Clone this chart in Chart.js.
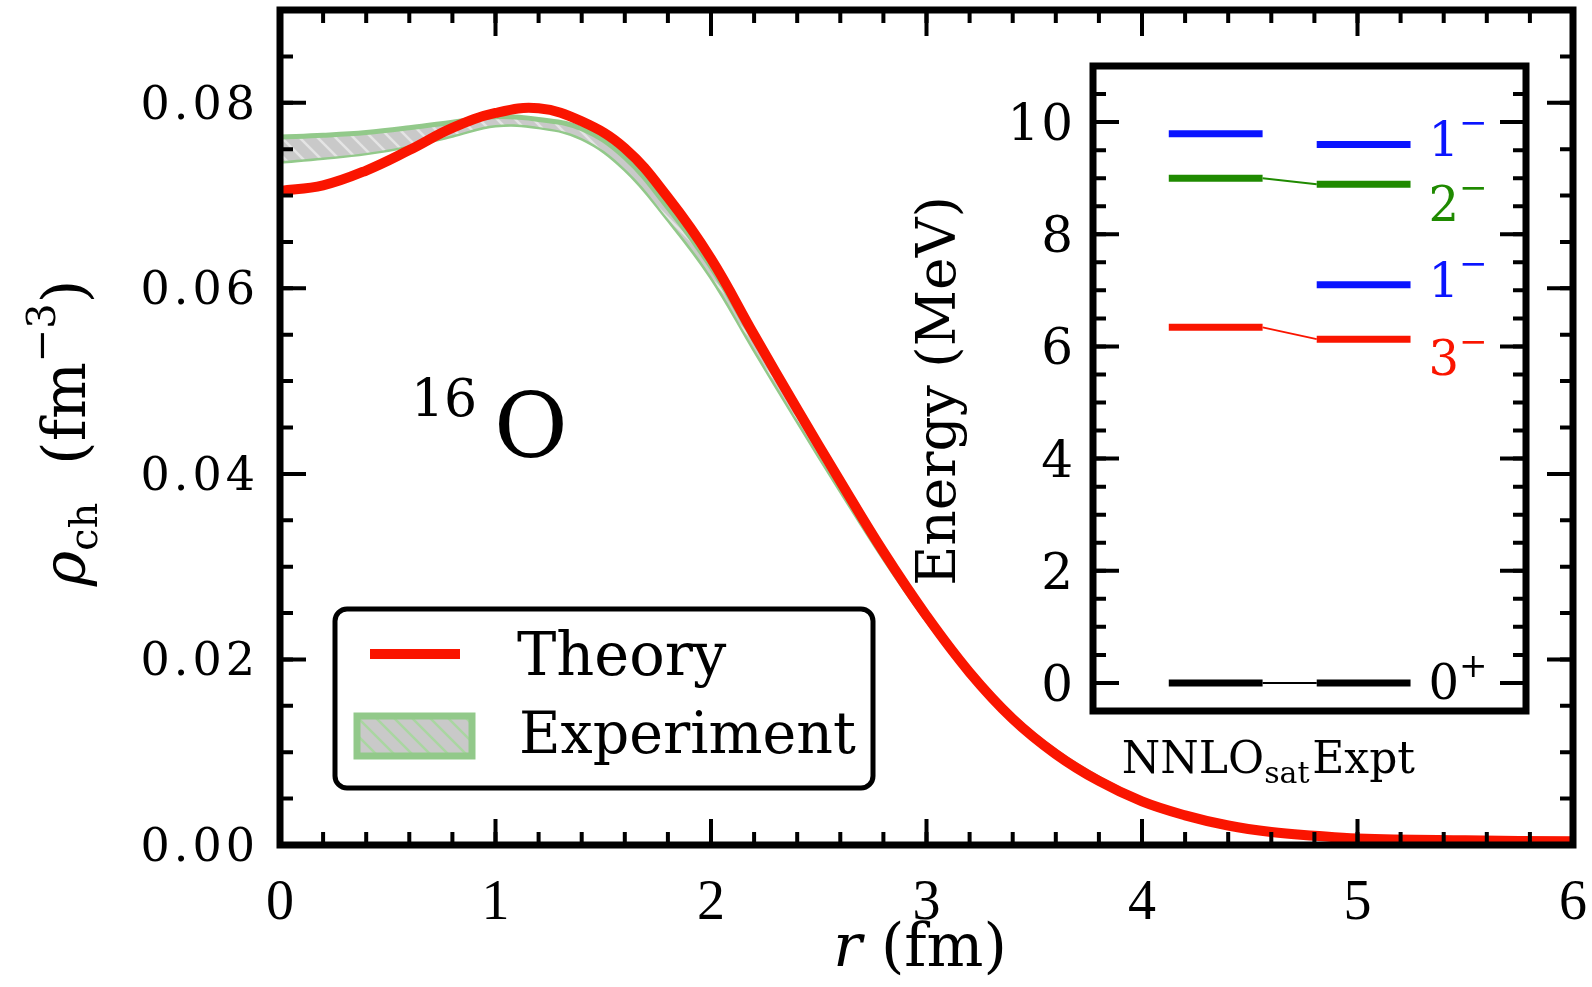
<!DOCTYPE html>
<html>
<head>
<meta charset="utf-8">
<script src="https://cdn.jsdelivr.net/npm/chart.js@4.4.1/dist/chart.umd.min.js"></script>
<style>
  html, body { margin: 0; padding: 0; background: #fff; }
  #wrap { position: relative; width: 1592px; height: 987px; }
  #wrap canvas { position: absolute; left: 0; top: 0; }
</style>
</head>
<body>
<div id="wrap">
  <canvas id="density" width="1592" height="987"></canvas>
  <canvas id="levels" width="1592" height="987"></canvas>
</div>
<script>
// 16O charge density (fm^-3) vs r (fm)
const radius = [0, 0.2, 0.4, 0.6, 0.8, 1.0, 1.2, 1.4, 1.6, 1.8, 2.0, 2.2, 2.4, 2.6, 2.8, 3.0, 3.2, 3.4, 3.6, 3.8, 4.0, 4.2, 4.4, 4.6, 4.8, 5.0, 5.5, 6.0];
const theoryRho = [0.0705, 0.0711, 0.0727, 0.0749, 0.0773, 0.0789, 0.0794, 0.0780, 0.0751, 0.0698, 0.0632, 0.0550, 0.0470, 0.0392, 0.0316, 0.0247, 0.0186, 0.0136, 0.0098, 0.0069, 0.0047, 0.0032, 0.0021, 0.0014, 0.0010, 0.0007, 0.0005, 0.0004];
const exptRhoUpper = [0.0763, 0.0765, 0.0768, 0.0773, 0.0779, 0.0785, 0.0782, 0.0772, 0.0741, 0.0687, 0.0623, 0.0544, 0.0466, 0.0390, 0.0316, 0.0249, 0.0189, 0.0139, 0.0101, 0.0072, 0.0049, 0.0033, 0.0022, 0.0015, 0.0010, 0.0008, 0.0005, 0.0004];
const exptRhoLower = [0.0737, 0.0741, 0.0746, 0.0754, 0.0765, 0.0776, 0.0774, 0.0762, 0.0729, 0.0675, 0.0613, 0.0535, 0.0458, 0.0383, 0.0310, 0.0243, 0.0184, 0.0134, 0.0096, 0.0068, 0.0045, 0.0030, 0.0019, 0.0013, 0.0009, 0.0006, 0.0004, 0.0003];

const rTicks = [0, 1, 2, 3, 4, 5, 6];
const rhoTicks = [0, 0.02, 0.04, 0.06, 0.08];
const rhoTickLabels = ["0.00", "0.02", "0.04", "0.06", "0.08"];

// inset: low-lying states (MeV)
const stateSpin = ["0", "3", "1", "2", "1"];
const stateParity = ["+", "\u2212", "\u2212", "\u2212", "\u2212"];
const nnloEnergy = [0, 6.34, null, 9.00, 9.79];
const exptEnergy = [0, 6.13, 7.10, 8.89, 9.60];
const linked = [true, true, false, true, false];
const energyTicks = [0, 2, 4, 6, 8, 10];
const columnNames = ["NNLO", "Expt"];

// styles
const ink = "#000000";
const red = "#fa1500";
const green = "#92c98a";
const stateColor = ["#000000", "#fa1500", "#0a14ff", "#1f8a00", "#0a14ff"];
const labelDy = [16, 36, 12, 37, 11];
const nnloSpan = [1.05, 2.35];
const exptSpan = [3.1, 4.4];
const serif = '"DejaVu Serif", serif';
const times = '"Liberation Serif", serif';

function hatch(bg, fg) {
  const c = document.createElement("canvas");
  c.width = 18;
  c.height = 18;
  const g = c.getContext("2d");
  g.fillStyle = bg;
  g.fillRect(0, 0, 18, 18);
  g.strokeStyle = fg;
  g.lineWidth = 2.5;
  g.beginPath();
  [-18, 0, 18].forEach((k) => {
    g.moveTo(k - 2, -2);
    g.lineTo(k + 20, 20);
  });
  g.stroke();
  return g.createPattern(c, "repeat");
}

function txt(ctx, s, x, y, font, align, spacing, color) {
  ctx.save();
  ctx.font = font;
  ctx.fillStyle = color || ink;
  ctx.textBaseline = "alphabetic";
  ctx.textAlign = "left";
  ctx.letterSpacing = (spacing || 0) + "px";
  let w = ctx.measureText(s).width;
  if (spacing) w -= spacing;
  const x0 = align === "right" ? x - w : align === "center" ? x - w / 2 : x;
  ctx.fillText(s, x0, y);
  ctx.restore();
}

// parts: [text, font, dy]
function rich(ctx, parts, x, y, align, color) {
  ctx.save();
  ctx.fillStyle = color || ink;
  ctx.textBaseline = "alphabetic";
  ctx.textAlign = "left";
  let w = 0;
  parts.forEach((p) => {
    ctx.font = p[1];
    w += ctx.measureText(p[0]).width;
  });
  let cx = align === "center" ? x - w / 2 : align === "right" ? x - w : x;
  parts.forEach((p) => {
    ctx.font = p[1];
    ctx.fillText(p[0], cx, y + (p[2] || 0));
    cx += ctx.measureText(p[0]).width;
  });
  ctx.restore();
}

function steps(from, to, step) {
  const out = [];
  for (let v = from; v <= to + 1e-9; v += step) out.push(v);
  return out;
}

function frame(ctx, a) {
  ctx.save();
  ctx.strokeStyle = ink;
  ctx.lineWidth = 7;
  ctx.strokeRect(a.left, a.top, a.right - a.left, a.bottom - a.top);
  ctx.restore();
}

function yTicks(ctx, chart, values, len) {
  const a = chart.chartArea;
  const s = chart.scales.y;
  ctx.beginPath();
  values.forEach((v) => {
    const p = s.getPixelForValue(v);
    ctx.moveTo(a.left, p);
    ctx.lineTo(a.left + len, p);
    ctx.moveTo(a.right, p);
    ctx.lineTo(a.right - len, p);
  });
  ctx.stroke();
}

function xTicks(ctx, chart, values, len) {
  const a = chart.chartArea;
  const s = chart.scales.x;
  ctx.beginPath();
  values.forEach((v) => {
    const p = s.getPixelForValue(v);
    ctx.moveTo(p, a.bottom);
    ctx.lineTo(p, a.bottom - len);
    ctx.moveTo(p, a.top);
    ctx.lineTo(p, a.top + len);
  });
  ctx.stroke();
}

const densityDecor = {
  id: "densityDecor",
  afterDraw(chart) {
    const ctx = chart.ctx;
    const a = chart.chartArea;
    const xs = chart.scales.x;
    const ys = chart.scales.y;

    ctx.save();
    ctx.strokeStyle = ink;
    ctx.lineWidth = 4;
    xTicks(ctx, chart, steps(0, 6, 0.2), 13);
    xTicks(ctx, chart, rTicks, 26);
    yTicks(ctx, chart, steps(0, 0.09, 0.005), 13);
    yTicks(ctx, chart, rhoTicks, 26);
    ctx.restore();
    frame(ctx, a);

    rTicks.forEach((v) => {
      txt(ctx, String(v), xs.getPixelForValue(v), 919, "56px " + times, "center");
    });
    rhoTicks.forEach((v, i) => {
      txt(ctx, rhoTickLabels[i], 255, ys.getPixelForValue(v) + 16, "46px " + serif, "right", 4);
    });

    // axis titles
    rich(ctx, [["r", "italic 60px " + serif], [" (fm)", "60px " + serif]], 920, 966, "center");
    ctx.save();
    ctx.translate(85, 433);
    ctx.rotate(-Math.PI / 2);
    rich(ctx, [
      ["\u03c1", "italic 60px " + serif],
      ["ch", "40px " + serif, 12],
      ["  (fm", "60px " + serif],
      ["\u22123", "40px " + serif, -30],
      [")", "60px " + serif],
    ], 0, 0, "center");
    ctx.restore();

    // nucleus label
    txt(ctx, "16", 411, 416, "52px " + serif, "left");
    txt(ctx, "O", 494, 457, "90px " + serif, "left");

    // legend
    const ds = chart.data.datasets;
    ctx.save();
    ctx.fillStyle = "#fff";
    ctx.strokeStyle = ink;
    ctx.lineWidth = 5;
    ctx.beginPath();
    ctx.roundRect(335, 609, 538, 179, 12);
    ctx.fill();
    ctx.stroke();
    ctx.strokeStyle = ds[0].borderColor;
    ctx.lineWidth = ds[0].borderWidth;
    ctx.beginPath();
    ctx.moveTo(370, 654);
    ctx.lineTo(460, 654);
    ctx.stroke();
    ctx.fillStyle = hatch("#c9c9c9", "#a9d6a1");
    ctx.fillRect(357, 716, 115, 40);
    ctx.strokeStyle = ds[1].borderColor;
    ctx.lineWidth = 7;
    ctx.strokeRect(357, 716, 115, 40);
    ctx.restore();
    txt(ctx, ds[0].label, 517, 675, "59px " + serif, "left");
    txt(ctx, ds[1].label, 519, 753, "57px " + serif, "left");
  },
};

const levelsDecor = {
  id: "levelsDecor",
  beforeDatasetsDraw(chart) {
    const a = chart.chartArea;
    chart.ctx.fillStyle = "#fff";
    chart.ctx.fillRect(a.left, a.top, a.right - a.left, a.bottom - a.top);
  },
  afterDraw(chart) {
    const ctx = chart.ctx;
    const a = chart.chartArea;
    const xs = chart.scales.x;
    const ys = chart.scales.y;

    ctx.save();
    ctx.strokeStyle = ink;
    ctx.lineWidth = 4;
    yTicks(ctx, chart, steps(-0.5, 11, 0.5), 13);
    yTicks(ctx, chart, energyTicks, 26);
    ctx.restore();
    frame(ctx, a);

    energyTicks.forEach((v) => {
      txt(ctx, String(v), 1073, ys.getPixelForValue(v) + 18, "50px " + serif, "right", 2);
    });

    ctx.save();
    ctx.translate(955, 391);
    ctx.rotate(-Math.PI / 2);
    txt(ctx, "Energy (MeV)", 0, 0, "55px " + serif, "center");
    ctx.restore();

    // column names under the box
    const nnloX = xs.getPixelForValue((nnloSpan[0] + nnloSpan[1]) / 2);
    const exptX = xs.getPixelForValue((exptSpan[0] + exptSpan[1]) / 2);
    rich(ctx, [[columnNames[0], "44px " + serif], ["sat", "30px " + serif, 10]], nnloX, 773, "center");
    txt(ctx, columnNames[1], exptX, 773, "44px " + serif, "center");

    // state labels beside the experimental levels
    const lx = xs.getPixelForValue(exptSpan[1]) + 18;
    stateSpin.forEach((j, i) => {
      const y = ys.getPixelForValue(exptEnergy[i]) + labelDy[i];
      rich(ctx, [[j, "48px " + serif], [stateParity[i], "34px " + serif, -22]], lx, y, "left", stateColor[i]);
    });
  },
};

const bandFill = hatch("#c9c9c9", "#e4e4e4");

new Chart(document.getElementById("density"), {
  type: "line",
  data: {
    datasets: [
      {
        label: "Theory",
        data: radius.map((r, i) => ({ x: r, y: theoryRho[i] })),
        borderColor: red,
        borderWidth: 10,
        fill: false,
        order: 0,
      },
      {
        label: "Experiment",
        data: radius.map((r, i) => ({ x: r, y: exptRhoUpper[i] })),
        borderColor: green,
        borderWidth: 5,
        backgroundColor: bandFill,
        fill: "+1",
        order: 1,
      },
      {
        label: "Experiment lower",
        data: radius.map((r, i) => ({ x: r, y: exptRhoLower[i] })),
        borderColor: green,
        borderWidth: 5,
        fill: false,
        order: 2,
      },
    ],
  },
  options: {
    responsive: false,
    animation: false,
    devicePixelRatio: 1,
    layout: { padding: { top: 10, right: 19, left: 0, bottom: 0 } },
    plugins: { legend: { display: false }, tooltip: { enabled: false } },
    elements: {
      point: { radius: 0 },
      line: { tension: 0.4 },
    },
    scales: {
      x: {
        type: "linear",
        min: 0,
        max: 6,
        ticks: { display: false },
        grid: { display: false },
        border: { display: false },
        afterFit: (s) => { s.height = 142; },
      },
      y: {
        type: "linear",
        min: 0,
        max: 0.09,
        ticks: { display: false },
        grid: { display: false },
        border: { display: false },
        afterFit: (s) => { s.width = 280; },
      },
    },
  },
  plugins: [densityDecor],
});

const levelSets = [];
stateSpin.forEach((j, i) => {
  if (nnloEnergy[i] !== null) {
    levelSets.push({
      data: nnloSpan.map((x) => ({ x, y: nnloEnergy[i] })),
      borderColor: stateColor[i],
      borderWidth: 7,
    });
  }
  levelSets.push({
    data: exptSpan.map((x) => ({ x, y: exptEnergy[i] })),
    borderColor: stateColor[i],
    borderWidth: 7,
  });
  if (linked[i]) {
    levelSets.push({
      data: [
        { x: nnloSpan[1], y: nnloEnergy[i] },
        { x: exptSpan[0], y: exptEnergy[i] },
      ],
      borderColor: stateColor[i],
      borderWidth: 2,
    });
  }
});

new Chart(document.getElementById("levels"), {
  type: "line",
  data: { datasets: levelSets },
  options: {
    responsive: false,
    animation: false,
    devicePixelRatio: 1,
    layout: { padding: { top: 66, right: 66, left: 0, bottom: 0 } },
    plugins: { legend: { display: false }, tooltip: { enabled: false } },
    elements: { point: { radius: 0 } },
    scales: {
      x: {
        type: "linear",
        min: 0,
        max: 6,
        ticks: { display: false },
        grid: { display: false },
        border: { display: false },
        afterFit: (s) => { s.height = 276; },
      },
      y: {
        type: "linear",
        min: -0.5,
        max: 11,
        ticks: { display: false },
        grid: { display: false },
        border: { display: false },
        afterFit: (s) => { s.width = 1093; },
      },
    },
  },
  plugins: [levelsDecor],
});
</script>
</body>
</html>
